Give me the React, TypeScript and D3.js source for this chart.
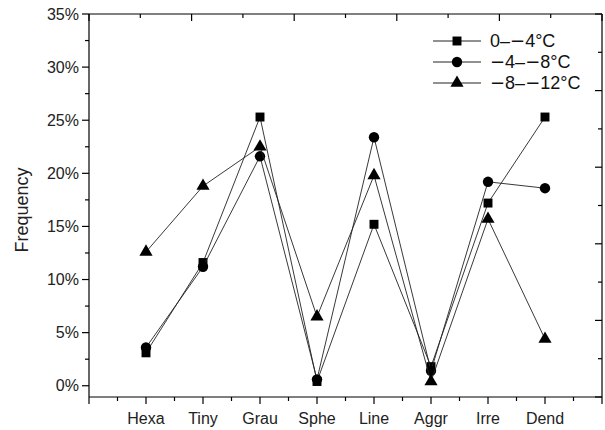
import React from 'react';
import * as d3 from 'd3';

// categories and values (%)
const categories = ['Hexa', 'Tiny', 'Grau', 'Sphe', 'Line', 'Aggr', 'Irre', 'Dend'];
const s0to4 = [3.1, 11.6, 25.3, 0.4, 15.2, 1.8, 17.2, 25.3];
const s4to8 = [3.6, 11.2, 21.6, 0.6, 23.4, 1.4, 19.2, 18.6];
const s8to12 = [12.6, 18.8, 22.5, 6.5, 19.8, 0.4, 15.7, 4.4];
const seriesNames = ['0\u2013\u22124\u00b0C', '\u22124\u2013\u22128\u00b0C', '\u22128\u2013\u221212\u00b0C'];
const yTicks = [0, 5, 10, 15, 20, 25, 30, 35];

const W = 605, H = 430;
const margin = { left: 89, right: 3, top: 14, bottom: 33 };
const font = 'Liberation Sans, Arial, sans-serif';

// minus signs drawn wider, as in the original
function legendLabel(name: string) {
  return name.split('').map((ch, i) =>
    ch === '\u2212'
      ? <tspan key={i} fontFamily="DejaVu Sans">{ch}</tspan>
      : <tspan key={i}>{ch}</tspan>
  );
}

export default function App() {
  const x = d3.scaleLinear().domain([0, 9]).range([margin.left, W - margin.right]);
  const y = d3.scaleLinear().domain([-1.06, 35]).range([H - margin.bottom, margin.top]);
  const x0 = x.range()[0], x1 = x.range()[1];
  const y0 = y.range()[0], y1 = y.range()[1];

  const line = d3.line<number>().x((d, i) => x(i + 1)).y(d => y(d));
  const series = [
    { name: seriesNames[0], data: s0to4, shape: d3.symbolSquare, size: 80 },
    { name: seriesNames[1], data: s4to8, shape: d3.symbolCircle, size: 85 },
    { name: seriesNames[2], data: s8to12, shape: d3.symbolTriangle, size: 75 },
  ];

  // bottom ticks every half category, major at categories
  const bottomTicks = d3.range(0, 9.01, 0.5);
  const leftTicks = d3.range(0, 35.01, 2.5);
  const topTicks = d3.range(0, 11);
  const topScale = d3.scaleLinear().domain([0, 10]).range([x0, x1]);
  const rightScale = d3.scaleLinear().domain([0, 10]).range([y1, y0]);

  return (
    <svg width={W} height={H} style={{ position: 'absolute', left: 0, top: 0, background: '#fff' }}>
      <rect width={W} height={H} fill="#fff" />
      <g stroke="#000" strokeWidth={1.2}>
        <line x1={x0} x2={x1} y1={y0} y2={y0} />
        <line x1={x0} x2={x1} y1={y1} y2={y1} />
        <line x1={x0} x2={x0} y1={y1} y2={y0} />
        <line x1={x1} x2={x1} y1={y1} y2={y0} />
        {bottomTicks.map(t => (
          <line key={'b' + t} x1={x(t)} x2={x(t)} y1={y0} y2={y0 + (t % 1 === 0 ? 7 : 4)} />
        ))}
        {leftTicks.map(t => (
          <line key={'l' + t} x1={x0} x2={x0 - (t % 5 === 0 ? 7 : 4)} y1={y(t)} y2={y(t)} />
        ))}
        {topTicks.map(t => (
          <line key={'t' + t} x1={topScale(t)} x2={topScale(t)} y1={y1} y2={y1 + (t % 2 === 0 ? 7 : 4)} />
        ))}
        {topTicks.map(t => (
          <line key={'r' + t} x1={x1} x2={x1 - (t % 2 === 0 ? 7 : 4)} y1={rightScale(t)} y2={rightScale(t)} />
        ))}
      </g>
      <g fontFamily={font} fontSize={16} fill="#222">
        {yTicks.map(t => (
          <text key={t} x={x0 - 10} y={y(t)} dy="0.35em" textAnchor="end">{t}%</text>
        ))}
        {categories.map((c, i) => (
          <text key={c} x={x(i + 1)} y={y0 + 27} textAnchor="middle">{c}</text>
        ))}
        <text transform={`translate(28,210) rotate(-90)`} textAnchor="middle" fontSize={18}>Frequency</text>
      </g>
      {series.map(s => (
        <g key={s.name}>
          <path d={line(s.data) || ''} fill="none" stroke="#222" strokeWidth={0.9} />
          {s.data.map((v, i) => (
            <path key={i} transform={`translate(${x(i + 1)},${y(v)})`} d={d3.symbol(s.shape, s.size)() || ''} fill="#000" />
          ))}
        </g>
      ))}
      <g fontFamily={font} fontSize={18} fill="#111">
        {series.map((s, i) => {
          const ly = 41 + i * 21;
          return (
            <g key={s.name}>
              <line x1={433} x2={481} y1={ly} y2={ly} stroke="#222" strokeWidth={1} />
              <path transform={`translate(457,${ly})`} d={d3.symbol(s.shape, s.size)() || ''} fill="#000" />
              <text x={490} y={ly} dy="0.35em">{legendLabel(s.name)}</text>
            </g>
          );
        })}
      </g>
    </svg>
  );
}
